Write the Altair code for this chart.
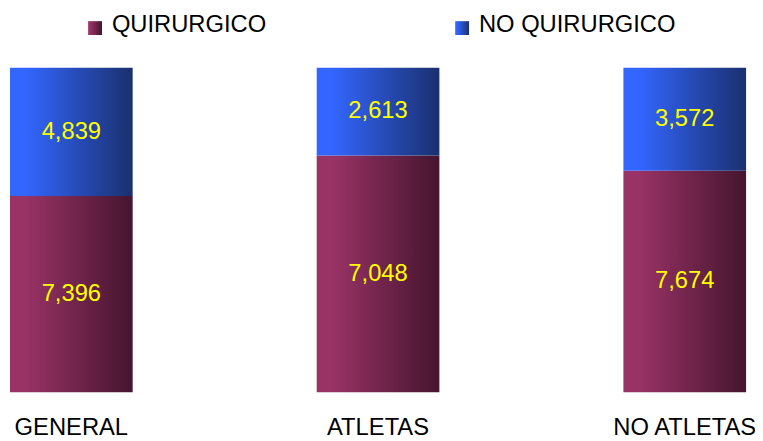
import altair as alt
import pandas as pd

categories = ["GENERAL", "ATLETAS", "NO ATLETAS"]
series = ["QUIRURGICO", "NO QUIRURGICO"]
quirurgico = [7.396, 7.048, 7.674]
no_quirurgico = [4.839, 2.613, 3.572]

rows = []
for i, c in enumerate(categories):
    for j, (s, vals) in enumerate(zip(series, [quirurgico, no_quirurgico])):
        rows.append({"cat": c, "serie": s, "order": j, "value": vals[i],
                     "label": f"{vals[i]:.3f}".replace(".", ",")})
df = pd.DataFrame(rows)

FONT = "Liberation Sans"

def grad(c1, c2):
    return alt.Gradient(
        gradient="linear", x1=0, y1=0, x2=1, y2=0,
        stops=[alt.GradientStop(color=c1, offset=0),
               alt.GradientStop(color=c1, offset=0.12),
               alt.GradientStop(color=c2, offset=1)])

g_q = grad("#993366", "#45152e")
g_nq = grad("#3366ff", "#1a306e")

x_enc = alt.X("cat:N", sort=categories, title=None,
              scale=alt.Scale(paddingInner=0.6, paddingOuter=0.0065),
              axis=alt.Axis(domain=False, ticks=False, grid=False, labelAngle=0,
                            labelFontSize=24, labelFont=FONT, labelColor="#000000",
                            labelPadding=24))
y_scale = alt.Scale(domain=[0, 1])

base = alt.Chart(df).transform_stack(
    stack="value", groupby=["cat"], as_=["y0", "y1"], offset="normalize",
    sort=[alt.SortField("order", order="ascending")]
).transform_calculate(mid="(datum.y0 + datum.y1) / 2")

bars_q = base.transform_filter(alt.datum.serie == series[0]).mark_bar(color=g_q).encode(
    x=x_enc, y=alt.Y("y0:Q", scale=y_scale, axis=None), y2="y1:Q")
bars_nq = base.transform_filter(alt.datum.serie == series[1]).mark_bar(color=g_nq).encode(
    x=x_enc, y=alt.Y("y0:Q", scale=y_scale, axis=None), y2="y1:Q")
texts = base.mark_text(color="#ffff00", fontSize=24, font=FONT, baseline="middle").encode(
    x=x_enc, y=alt.Y("mid:Q", scale=y_scale, axis=None), text="label:N")

leg_df = pd.DataFrame({"serie": series})
leg = []
for s, g, sx in zip(series, [g_q, g_nq], [88, 459]):
    d = alt.Chart(leg_df).transform_filter(alt.datum.serie == s)
    leg.append(d.mark_square(color=g, size=196, opacity=1).encode(
        x=alt.value(sx), y=alt.value(-40)))
    leg.append(d.mark_text(align="left", baseline="middle", fontSize=24, font=FONT,
                           color="#000000").encode(
        x=alt.value(sx + 17), y=alt.value(-43), text="serie:N"))

chart = alt.layer(bars_q, bars_nq, texts, *leg).properties(
    width=748, height=328,
    autosize=alt.AutoSizeParams(type="none"),
    padding={"left": 0, "top": 58, "right": 7, "bottom": 47},
).configure(font=FONT).configure_view(strokeWidth=0, stroke="transparent")

chart.save("out.html", embed_options={"renderer": "svg", "actions": False})
